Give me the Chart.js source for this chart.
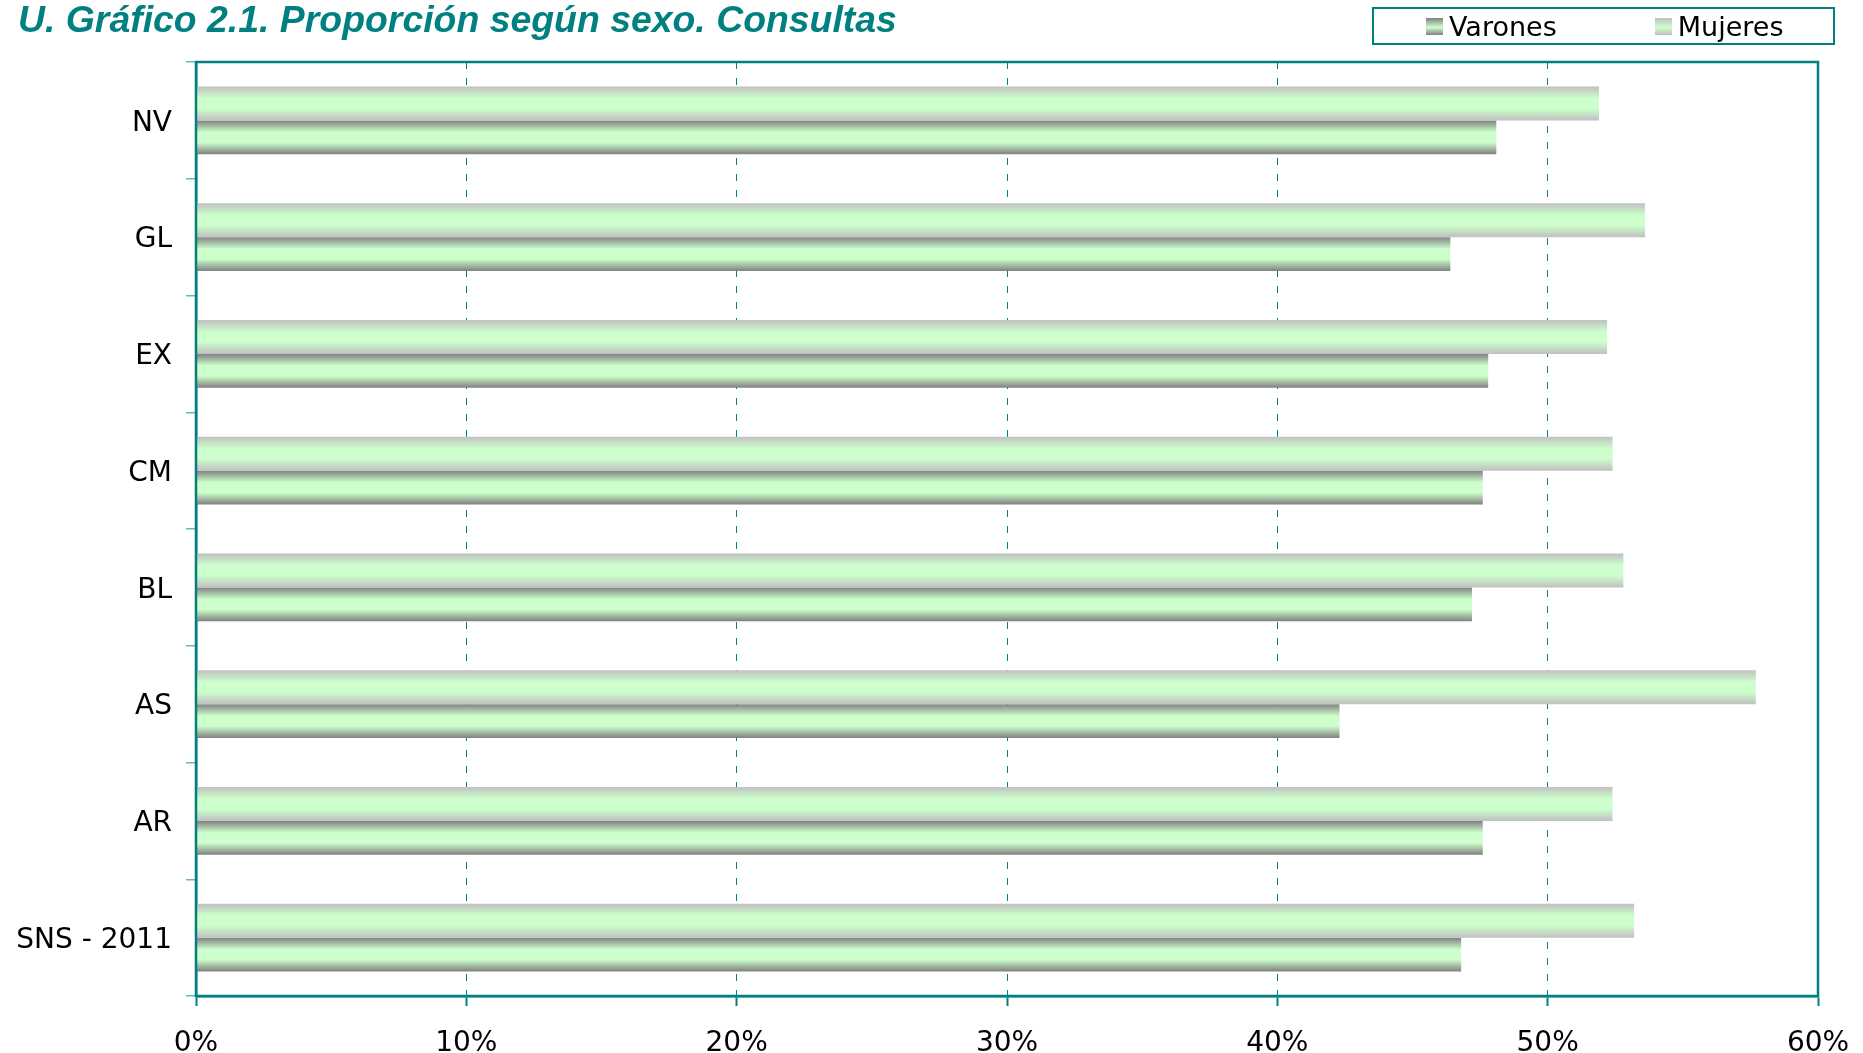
<!DOCTYPE html>
<html>
<head>
<meta charset="utf-8">
<script src="https://cdn.jsdelivr.net/npm/chart.js@4"></script>
<style>
  body { margin: 0; background: #fff; }
  #wrap { position: relative; width: 1863px; height: 1053px; }
  #title {
    position: absolute; left: 18px; top: 1px; margin: 0;
    font: italic bold 37.4px "Liberation Sans", Arial, sans-serif;
    line-height: 37px; color: #008080; white-space: nowrap;
  }
  #legend {
    position: absolute; left: 1372px; top: 7px; width: 463px; height: 38px;
    box-sizing: border-box; border: 2px solid #008080;
    display: flex; align-items: center; padding-left: 52px;
    font: 27px "DejaVu Sans", sans-serif; color: #000;
  }
  #legend .item { display: flex; align-items: center; margin-right: 98px; }
  #legend .box { width: 17px; height: 17px; margin-right: 6px; }
</style>
</head>
<body>
<div id="wrap">
  <canvas id="chart" width="1863" height="1053"></canvas>
  <div id="title">U. Gráfico 2.1. Proporción según sexo. Consultas</div>
  <div id="legend"></div>
</div>
<script>
// data (percent)
const categories = ['NV', 'GL', 'EX', 'CM', 'BL', 'AS', 'AR', 'SNS - 2011'];
const mujeres = [51.9, 53.6, 52.2, 52.4, 52.8, 57.7, 52.4, 53.2];
const varones = [48.1, 46.4, 47.8, 47.6, 47.2, 42.3, 47.6, 46.8];
const xMin = 0, xMax = 60, xStep = 10;

const teal = '#008080';
const green = '#ccffcc';
const catPct = 0.58;

// vertical gradient for each bar, built from the y scale position
function barFill(edge) {
  return (ctx) => {
    const chart = ctx.chart;
    const y = chart.scales.y;
    if (!y || !chart.chartArea || ctx.dataIndex === undefined) return edge;
    const center = y.getPixelForValue(ctx.dataIndex);
    const band = Math.abs(y.getPixelForValue(1) - y.getPixelForValue(0));
    const thick = band * catPct / 2;
    const top = center - band * catPct / 2 + ctx.datasetIndex * thick;
    const g = chart.ctx.createLinearGradient(0, top, 0, top + thick);
    g.addColorStop(0, edge);
    g.addColorStop(0.35, green);
    g.addColorStop(0.65, green);
    g.addColorStop(1, edge);
    return g;
  };
}

const datasets = [
  { label: 'Mujeres', data: mujeres, backgroundColor: barFill('#c0c0c0'), edge: '#c0c0c0' },
  { label: 'Varones', data: varones, backgroundColor: barFill('#808080'), edge: '#808080' }
];

// frame round the plot area
const framePlugin = {
  id: 'frame',
  afterDraw(chart) {
    const { ctx, chartArea: a } = chart;
    ctx.save();
    ctx.strokeStyle = teal;
    ctx.lineWidth = 2.5;
    ctx.strokeRect(a.left, a.top, a.right - a.left, a.bottom - a.top);
    ctx.restore();
  }
};

// html legend, Varones first like the original
const htmlLegend = {
  id: 'htmlLegend',
  afterUpdate(chart) {
    const box = document.getElementById('legend');
    box.innerHTML = '';
    chart.data.datasets.slice().reverse().forEach(ds => {
      const item = document.createElement('div');
      item.className = 'item';
      const sw = document.createElement('span');
      sw.className = 'box';
      sw.style.background = 'linear-gradient(' + ds.edge + ', ' + green + ' 55%, ' + ds.edge + ')';
      const txt = document.createElement('span');
      txt.textContent = ds.label;
      item.appendChild(sw);
      item.appendChild(txt);
      box.appendChild(item);
    });
  }
};

new Chart(document.getElementById('chart'), {
  type: 'bar',
  data: { labels: categories, datasets: datasets },
  options: {
    indexAxis: 'y',
    responsive: false,
    animation: false,
    categoryPercentage: catPct,
    barPercentage: 1,
    layout: { padding: { top: 62, right: 45, bottom: 0, left: 0 } },
    plugins: { legend: { display: false }, title: { display: false }, tooltip: { enabled: false } },
    scales: {
      x: {
        min: xMin, max: xMax,
        afterFit(scale) {
          scale.height = 57;
          scale.paddingLeft = 0;
          scale.paddingRight = 0;
        },
        ticks: {
          stepSize: xStep,
          padding: 21,
          color: '#000',
          font: { family: 'DejaVu Sans', size: 28 },
          callback: v => v + '%'
        },
        grid: {
          color: c => (c.tick && (c.tick.value === xMin || c.tick.value === xMax)) ? 'rgba(0,0,0,0)' : teal,
          tickColor: teal,
          tickLength: 10,
          lineWidth: 1,
          tickWidth: 2
        },
        border: { color: teal, width: 2.5, dash: [7, 9] }
      },
      y: {
        afterFit(scale) { scale.width = 196; },
        ticks: {
          padding: 14,
          labelOffset: 3,
          color: '#000',
          font: { family: 'DejaVu Sans', size: 28 }
        },
        grid: {
          offset: true,
          drawOnChartArea: false,
          color: '#6fb5b5',
          tickLength: 10,
          lineWidth: 1.5
        },
        border: { color: teal, width: 2.5 }
      }
    }
  },
  plugins: [framePlugin, htmlLegend]
});
</script>
</body>
</html>
